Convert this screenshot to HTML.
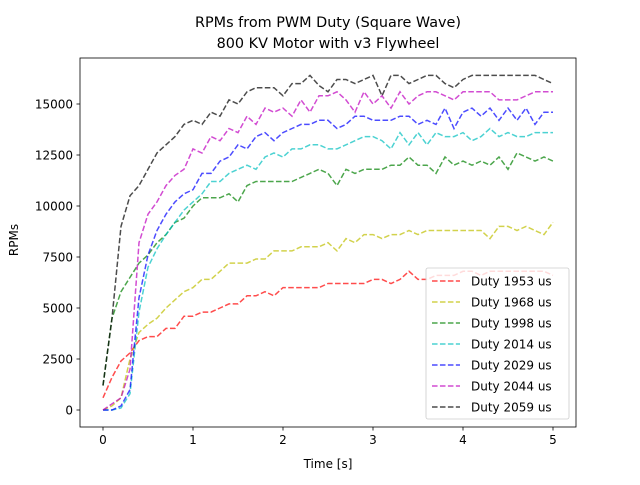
<!DOCTYPE html>
<html><head><meta charset="utf-8"><style>
body{margin:0;background:#fff}
svg text{font-family:"DejaVu Sans","Liberation Sans",sans-serif;fill:#000}
</style></head><body>
<svg id="chart" width="640" height="480" viewBox="0 0 640 480">
<rect width="640" height="480" fill="#fff"/>
<text x="328" y="27" font-size="14.4" text-anchor="middle">RPMs from PWM Duty (Square Wave)</text>
<text x="328" y="48" font-size="14.4" text-anchor="middle">800 KV Motor with v3 Flywheel</text>
<g id="plot"></g>
<text x="328" y="468" font-size="12" text-anchor="middle">Time [s]</text>
<text x="18" y="240" font-size="12" text-anchor="middle" transform="rotate(-90 18 240)">RPMs</text>
<rect x="80" y="58" width="496" height="369" fill="none" stroke="#000" stroke-width="0.8"/>
<g id="legend"></g>
</svg>
<script>
const xTicks=[0,1,2,3,4,5];
const yTicks=[0,2500,5000,7500,10000,12500,15000];
const seriesNames=["Duty 1953 us","Duty 1968 us","Duty 1998 us","Duty 2014 us","Duty 2029 us","Duty 2044 us","Duty 2059 us"];
const seriesColors=["rgba(255,0,0,0.7)","rgba(191,191,0,0.7)","rgba(0,128,0,0.7)","rgba(0,191,191,0.7)","rgba(0,0,255,0.7)","rgba(191,0,191,0.7)","rgba(0,0,0,0.7)"];
const timeStep=0.1;
const duty1953=[600,1600,2400,2800,3400,3600,3600,4000,4000,4600,4600,4800,4800,5000,5200,5200,5600,5600,5800,5600,6000,6000,6000,6000,6000,6200,6200,6200,6200,6200,6400,6400,6200,6400,6800,6400,6400,6600,6600,6600,6800,6800,6600,6800,6800,6800,6800,6800,6800,6800,6600];
const duty1968=[0,200,600,2500,3800,4200,4500,5000,5400,5800,6000,6400,6400,6800,7200,7200,7200,7400,7400,7800,7800,7800,8000,8000,8000,8200,7800,8400,8200,8600,8600,8400,8600,8600,8800,8600,8800,8800,8800,8800,8800,8800,8800,8400,9000,9000,8800,9000,8800,8600,9200];
const duty1998=[1200,4500,5800,6500,7200,7600,8200,8600,9200,9400,10000,10400,10400,10400,10600,10200,11000,11200,11200,11200,11200,11200,11400,11600,11800,11600,11000,11800,11600,11800,11800,11800,12000,12000,12400,12000,12000,11600,12400,12000,12200,12000,12200,12000,12400,11800,12600,12400,12200,12400,12200];
const duty2014=[0,0,100,800,4800,7000,7900,8600,9200,9800,10200,10600,11200,11200,11600,11800,12000,11800,12400,12600,12400,12800,12800,13000,13000,12800,12800,13000,13200,13400,13400,13200,12800,13600,13000,13600,13000,13600,13400,13400,13600,13200,13400,13800,13400,13600,13400,13400,13600,13600,13600];
const duty2029=[0,0,200,1000,5500,7600,8800,9600,10200,10600,10800,11600,11600,12200,12400,13000,12800,13400,13600,13200,13600,13800,14000,14000,14200,14200,13800,14000,14400,14400,14200,14200,14200,14400,14400,14000,14200,14000,14800,13800,14600,14800,14400,14800,14200,14800,14200,14800,14000,14600,14600];
const duty2044=[0,300,600,2000,8200,9600,10200,11000,11500,11800,12800,12600,13400,13200,13800,13600,14400,14000,14800,14600,14800,14400,15200,14600,15400,15400,15600,15200,14600,15600,15000,15400,14800,15600,15000,15400,15600,15600,15400,15200,15600,15600,15600,15600,15200,15200,15200,15400,15600,15600,15600];
const duty2059=[1200,4500,9000,10500,11000,11800,12600,13000,13400,14000,14200,14000,14600,14400,15200,15000,15600,15800,15800,15800,15400,16000,16000,16400,15900,15600,16200,16200,16000,16200,16400,15400,16400,16400,16000,16200,16400,16400,16000,15800,16200,16400,16400,16400,16400,16400,16400,16400,16400,16200,16000];
const allSeries=[duty1953,duty1968,duty1998,duty2014,duty2029,duty2044,duty2059];

const NS="http://www.w3.org/2000/svg";
const X0=103,XS=90,Y0=410,YS=306/15000;
function xs(t){return X0+t*XS;}
function ys(v){return Y0-v*YS;}
const plot=document.getElementById('plot');
const svg=document.getElementById('chart');
function mk(tag,attrs,parent){const e=document.createElementNS(NS,tag);for(const k in attrs)e.setAttribute(k,attrs[k]);parent.appendChild(e);return e;}
xTicks.forEach(t=>{
  const l=mk('line',{x1:xs(t),x2:xs(t),y1:427,y2:430.5,stroke:'#000','stroke-width':0.8},svg);
  
  
  const tx=mk('text',{x:xs(t),y:444,'font-size':12,'text-anchor':'middle'},svg);
  tx.textContent=String(t);
  
  
});
yTicks.forEach(v=>{
  const l=mk('line',{x1:76.5,x2:80,y1:ys(v),y2:ys(v),stroke:'#000','stroke-width':0.8},svg);
  
  
  const tx=mk('text',{x:73,y:ys(v)+4.5,'font-size':12,'text-anchor':'end'},svg);
  tx.textContent=String(v);
  
  
});
allSeries.forEach((arr,i)=>{
  const pts=arr.map((v,j)=>xs(j*timeStep).toFixed(1)+','+ys(v).toFixed(1)).join(' ');
  const p=mk('polyline',{points:pts,fill:'none',stroke:seriesColors[i],'stroke-width':1.5,'stroke-dasharray':'5.55,2.4'},plot);
  
  
});
const leg=document.getElementById('legend');
const box=mk('rect',{x:426,y:268,width:143,height:151,rx:2,fill:'rgba(255,255,255,0.8)',stroke:'#ccc','stroke-width':0.8},leg);


seriesNames.forEach((n,i)=>{
  const y=281+i*21;
  const l=mk('line',{x1:432,x2:460,y1:y,y2:y,stroke:seriesColors[i],'stroke-width':1.5,'stroke-dasharray':'5.55,2.4'},leg);
  
  
  const t=mk('text',{x:471,y:y+4.5,'font-size':12},leg);
  t.textContent=n;
  
  
});
</script>
</body></html>
